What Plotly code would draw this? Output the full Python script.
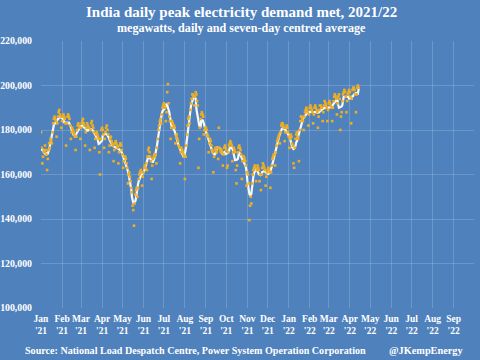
import pandas as pd
import plotly.graph_objects as go

# Daily peak demand met, thousand megawatts, starting 1 Jan 2021
start_date = "2021-01-01"
jan21 = [179, 172, 165, 168, 171, 170, 173, 171, 169, 162, 167, 171, 174, 172, 176, 175,
         174, 179, 183, 185, 186, 185, 184, 177, 183, 186, 188, 189, 187, 186, 181]
feb21 = [184, 186, 187, 186, 185, 183, 173, 183, 186, 187, 186, 185, 182, 176, 179, 181,
         180, 179, 178, 177, 171, 177, 180, 182, 183, 182, 181, 176]
mar21 = [181, 183, 184, 185, 183, 182, 173, 179, 181, 183, 182, 181, 181, 171, 180, 183,
         184, 182, 181, 179, 172, 176, 178, 179, 178, 177, 176, 170, 160, 176, 180]
apr21 = [181, 180, 178, 172, 176, 179, 181, 182, 180, 178, 170, 173, 176, 177, 175, 174,
         173, 166, 171, 174, 175, 174, 173, 172, 165, 170, 173, 174, 173, 171]
may21 = [169, 163, 166, 168, 168, 167, 165, 163, 156, 160, 161, 159, 157, 154, 152, 146,
         144, 137, 147, 151, 153, 154, 150, 154, 158, 160, 161, 162, 161, 155, 159]
jun21 = [161, 163, 164, 163, 165, 162, 168, 171, 172, 170, 168, 166, 158, 164, 167, 168,
         169, 168, 169, 165, 172, 176, 180, 182, 184, 185, 183, 187, 190, 191]
jul21 = [192, 191, 190, 184, 188, 197, 200.6, 192, 186, 184, 176, 181, 184, 183, 181, 182,
         181, 174, 177, 178, 176, 175, 173, 172, 165, 170, 172, 171, 170, 169, 168]
aug21 = [158, 168, 173, 178, 182, 185, 186, 183, 189, 192, 194, 196, 196, 195, 191, 195,
         197, 196, 193, 191, 163, 176, 181, 185, 187, 188, 187, 186, 178, 180, 181]
sep21 = [181, 180, 178, 177, 170, 174, 176, 175, 173, 171, 170, 161, 168, 171, 172, 171,
         170, 172, 167, 181, 172, 171, 170, 171, 170, 164, 169, 172, 173, 172]
oct21 = [171, 163, 164, 170, 173, 174, 175, 174, 173, 166, 170, 172, 171, 170, 162, 156,
         164, 170, 172, 173, 172, 171, 169, 158, 166, 168, 168, 167, 166, 164, 155]
nov21 = [161, 160, 156, 139.5, 146, 150, 147, 156, 160, 162, 163, 164, 163, 157, 162, 164,
         163, 162, 157, 160, 153, 160, 163, 165, 164, 163, 162, 155, 159, 161]
dec21 = [162, 163, 162, 161, 154, 161, 164, 167, 168, 169, 169, 164, 170, 173, 175, 176,
         177, 178, 174, 179, 182, 183, 183, 182, 181, 175, 179, 181, 182, 181, 179]
jan22 = [177, 172, 176, 178, 177, 174, 173, 165, 163, 172, 176, 178, 179, 177, 176, 166,
         180, 184, 186, 186, 185, 184, 180, 186, 188, 189, 190, 189, 188, 182, 187]
feb22 = [190, 191, 190, 189, 188, 183, 187, 190, 191, 190, 189, 188, 181, 186, 189, 191,
         191, 190, 190, 184, 188, 191, 193, 192, 191, 190, 184, 189]
mar22 = [192, 193, 192, 191, 190, 184, 190, 193, 195, 196, 195, 194, 187, 192, 195, 196,
         194, 180, 186, 188, 193, 196, 197, 198, 197, 195, 188, 193, 196, 197, 198]
apr22 = [197, 195, 183, 194, 198, 199, 199, 198, 196, 188, 196, 199, 200, 199]

# Axis ticks
tick_dates = pd.date_range("2021-01-01", "2022-09-01", freq="MS")
tick_labels = ["Jan<br>'21", "Feb<br>'21", "Mar<br>'21", "Apr<br>'21", "May<br>'21",
               "Jun<br>'21", "Jul<br>'21", "Aug<br>'21", "Sep<br>'21", "Oct<br>'21",
               "Nov<br>'21", "Dec<br>'21", "Jan<br>'22", "Feb<br>'22", "Mar<br>'22",
               "Apr<br>'22", "May<br>'22", "Jun<br>'22", "Jul<br>'22", "Aug<br>'22",
               "Sep<br>'22"]
y_ticks = [100000, 120000, 140000, 160000, 180000, 200000, 220000]

values = jan21 + feb21 + mar21 + apr21 + may21 + jun21 + jul21 + aug21 + sep21 + oct21 \
    + nov21 + dec21 + jan22 + feb22 + mar22 + apr22
dates = pd.date_range(start_date, periods=len(values), freq="D")
daily = pd.Series([v * 1000 for v in values], index=dates)
avg7 = daily.rolling(7, center=True, min_periods=4).mean()

BG = "#4F81BD"
FONT = "Liberation Serif"
ML, MR, MT, MB = 41, 6, 41, 52
W, H = 480, 360
plot_h = H - MT - MB
plot_w = W - ML - MR


def py(ypix):
    return (H - MB - ypix) / plot_h


def px(xpix):
    return (xpix - ML) / plot_w


fig = go.Figure()
fig.add_trace(go.Scatter(x=avg7.index, y=avg7.values, mode="lines",
                         line=dict(color="rgba(255,255,255,0.95)", width=2.2),
                         hoverinfo="skip", showlegend=False))
fig.add_trace(go.Scatter(x=daily.index, y=daily.values, mode="markers",
                         marker=dict(symbol="square", size=2.6, color="#EEAE22",
                                     line=dict(width=0)),
                         showlegend=False))


def txt(text, x, y, size, anchor):
    return dict(text=text, x=px(x), y=py(y), xref="paper", yref="paper",
                showarrow=False, xanchor=anchor, yanchor="middle",
                font=dict(size=size, family=FONT, color="white", weight="bold"))


fig.update_layout(
    width=W, height=H,
    paper_bgcolor=BG, plot_bgcolor=BG,
    margin=dict(l=ML, r=MR, t=MT, b=MB, autoexpand=False),
    font=dict(family=FONT, color="white", size=11, weight="bold"),
    showlegend=False,
    annotations=[
        txt("India daily peak electricity demand met, 2021/22", 241, 12, 15.0, "center"),
        txt("megawatts, daily and seven-day centred average", 241, 28, 12.1, "center"),
        txt("Source: National Load Despatch Centre, Power System Operation Corporation",
            23, 350, 10.1, "left"),
        txt("@JKempEnergy", 465, 350, 10.3, "right"),
    ],
)

fig.update_xaxes(range=["2021-01-01", "2022-10-01"], tickvals=tick_dates, ticktext=tick_labels,
                 tickangle=0, automargin=False,
                 showgrid=True, gridcolor="rgba(255,255,255,0.18)", gridwidth=1,
                 zeroline=False, showline=False, ticks="", tickfont=dict(size=9.5),
                 ticklabelstandoff=3)
fig.update_yaxes(range=[100000, 220000], tickvals=y_ticks, tickformat=",",
                 automargin=False,
                 showgrid=True, gridcolor="rgba(255,255,255,0.18)", gridwidth=1,
                 zeroline=False, showline=False, ticks="", tickfont=dict(size=9.8),
                 ticklabelstandoff=8)

fig.write_html("out.html", config={"displayModeBar": False},
               post_script="document.body.style.margin='0';document.body.style.overflow='hidden';")
